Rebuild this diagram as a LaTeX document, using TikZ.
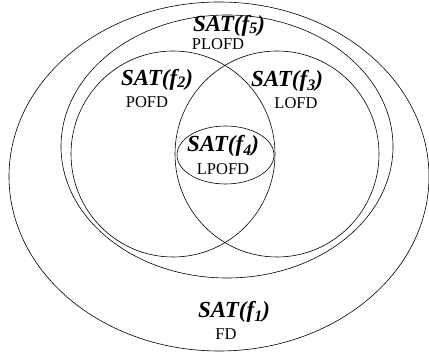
\documentclass[tikz,border=0pt]{standalone}
\usepackage{fontspec}
\setmainfont{Liberation Serif}
\usetikzlibrary{shapes.geometric}
\newcommand{\lowsub}[2]{\raisebox{-#1}{\fontsize{16}{16}\selectfont #2}}
\begin{document}
\begin{tikzpicture}[x=1pt,y=-1pt,
  set/.style={draw, ellipse, inner sep=0pt, outer sep=0pt, line width=0.6pt},
  title/.style={font=\fontsize{23}{23}\selectfont\bfseries\itshape, inner sep=0pt},
  label/.style={font=\fontsize{16.5}{16.5}\selectfont, inner sep=0pt}]
\useasboundingbox (0,0) rectangle (429,355);
\node[set, minimum width=420pt, minimum height=349pt] (f1) at (219,176.5) {};
\node[set, minimum width=332pt, minimum height=263pt] (f5) at (227,146.5) {};
\node[set, minimum width=204pt, minimum height=206pt] (f2) at (173,154) {};
\node[set, minimum width=204pt, minimum height=206pt] (f3) at (277,154) {};
\node[set, minimum width=97pt, minimum height=58pt] (f4) at (225.5,155) {};
\node[title] (t5) at (229,26) {SAT(f\lowsub{2pt}{5})};
\node[label] (l5) at (218,44) {PLOFD};
\node[title] (t2) at (157,80) {SAT(f\lowsub{2pt}{2})};
\node[label] (l2) at (147,102) {POFD};
\node[title] (t3) at (287,81) {SAT(f\lowsub{3.5pt}{3})};
\node[label] (l3) at (296,103) {LOFD};
\node[title] (t4) at (223,146) {SAT(f\lowsub{4pt}{4})};
\node[label] (l4) at (223,169) {LPOFD};
\node[title] (t1) at (234,312) {SAT(f\lowsub{4pt}{1})};
\node[label] (l1) at (226,334) {FD};
\end{tikzpicture}
\end{document}
